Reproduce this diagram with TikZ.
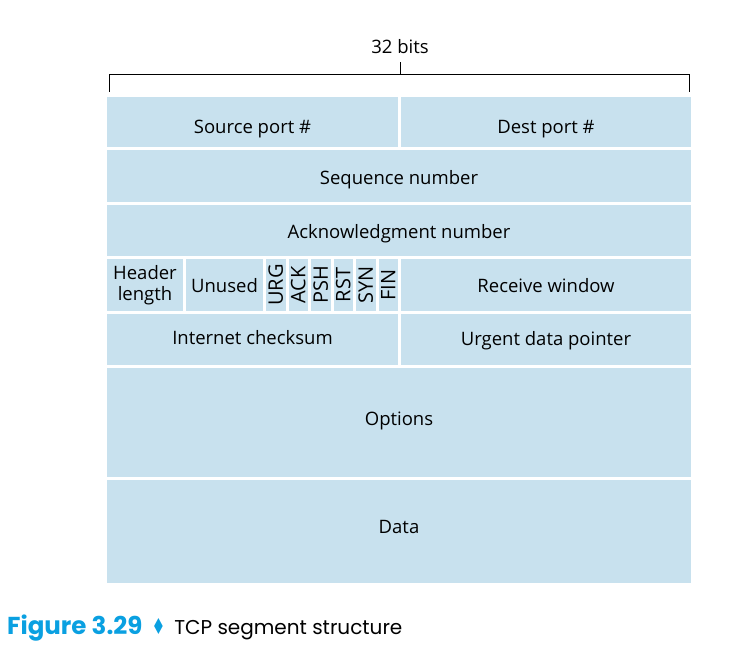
\documentclass[tikz,border=0pt]{standalone}
\usepackage{fontspec}
\setmainfont{Open Sans}
\newfontfamily\capfont{Poppins}
\newfontfamily\symfont{DejaVu Sans}
\usetikzlibrary{positioning}
\definecolor{segblue}{RGB}{200,225,238}
\definecolor{figblue}{RGB}{10,160,225}
\newcommand{\fieldfont}{\fontsize{18.5}{21}\selectfont}
\tikzset{
  field/.style={fill=segblue, draw=white, line width=3pt, inner sep=0pt,
    outer sep=0pt, font=\fieldfont, align=center, text height=13pt, text depth=0pt},
  nudge/.style={text height=13pt+2*#1, text depth=0pt},
  lift/.style={text height=13pt, text depth=2*#1},
  flagbox/.style={field, rotate=90, minimum width=54pt, minimum height=22.5pt,
    font=\fontsize{20}{22}\selectfont, text height=14.3pt}
}
\begin{document}
\begin{tikzpicture}[x=1pt, y=-1pt]
  \useasboundingbox (0,0) rectangle (748,658);
  % 32-bit brace
  \coordinate (bl) at (109,92);
  \coordinate (br) at (689,92);
  \coordinate (bmid) at (400,75);
  \node[font=\fieldfont, text height=13pt, text depth=0pt] (width) at (400,47.5) {32 bits};
  \draw[line width=1pt] (bl) -- (bl |- bmid) -- (br |- bmid) -- (br);
  \draw[line width=1pt] (bmid) -- ++(0,-13);
  % rows
  \node[field, nudge=4.5pt, minimum width=294pt, minimum height=53.5pt] (srcport) at (252.5,122.25) {Source port \#};
  \node[field, nudge=4.5pt, minimum width=293pt, minimum height=53.5pt] (dstport) at (546,122.25) {Dest port \#};
  \node[field, nudge=1.5pt, minimum width=587pt, minimum height=55pt] (seqnum) at (399,176.5) {Sequence number};
  \node[field, nudge=1pt, minimum width=587pt, minimum height=54pt] (acknum) at (399,231) {Acknowledgment number};
  \node[field, text height=, text depth=, minimum width=79pt, minimum height=54pt] (hdrlen) at (145,285) {Header\\length};
  \node[field, nudge=1pt, minimum width=80pt, minimum height=54pt] (unused) at (224.5,285) {Unused};
  \foreach \flag [count=\i] in {URG,ACK,PSH,RST,SYN,FIN}
    \node[flagbox] (\flag) at (264.5+22.5*\i-11.25,285) {\flag};
  \node[field, nudge=1pt, minimum width=293pt, minimum height=54pt] (rwnd) at (546,285) {Receive window};
  \node[field, lift=1pt, minimum width=294pt, minimum height=54pt] (checksum) at (252.5,339) {Internet checksum};
  \node[field, minimum width=293pt, minimum height=54pt] (urgptr) at (546,339) {Urgent data pointer};
  \node[field, lift=3pt, minimum width=587pt, minimum height=112pt] (options) at (399,422) {Options};
  \node[field, lift=4pt, minimum width=587pt, minimum height=106.5pt] (data) at (399,531.25) {Data};
  % caption
  \node[anchor=base west, inner sep=0pt, font=\capfont] (caption) at (7,634)
    {\textcolor{figblue}{\fontsize{24.5}{28}\selectfont\bfseries Figure 3.29}\hspace{9pt}%
     \textcolor{figblue}{\symfont\fontsize{22}{26}\selectfont\scalebox{0.7}[1]{♦}}\hspace{9pt}%
     {\fontsize{20}{24}\selectfont TCP segment structure}};
\end{tikzpicture}
\end{document}
